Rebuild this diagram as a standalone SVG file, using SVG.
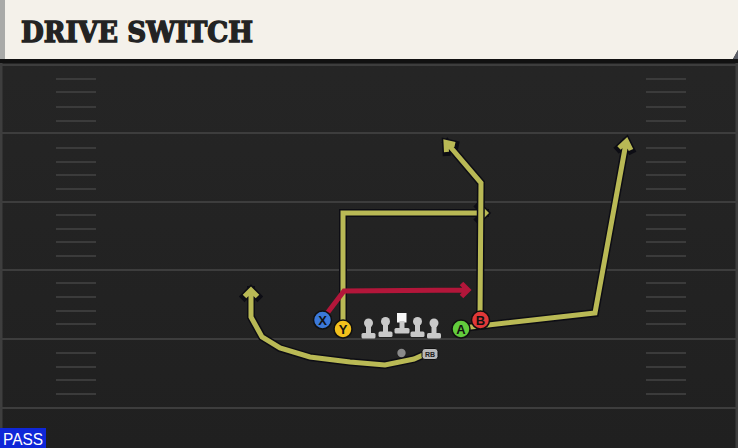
<svg xmlns="http://www.w3.org/2000/svg" xmlns:xlink="http://www.w3.org/1999/xlink" width="738" height="448" viewBox="0 0 738 448">
<style>
.yl{stroke:#3d3d3d;stroke-width:2}
.hm{stroke:#3b3b3b;stroke-width:2}
.ol{fill:none;stroke:#0d0d14;stroke-width:8;stroke-linejoin:miter;stroke-linecap:square}
.ry{fill:none;stroke:#b9b955;stroke-width:5;stroke-linejoin:miter;stroke-linecap:butt}
.rr{fill:none;stroke:#b3163a;stroke-width:5;stroke-linejoin:miter;stroke-linecap:butt}
.pl{stroke:#101010;stroke-width:1.5}
.pt{font-family:"Liberation Sans",Arial,sans-serif;font-weight:bold;font-size:13px;fill:#111;text-anchor:middle}
.ln{fill:#c9c9c9}
</style>
<defs>
<g id="lineman">
<circle cx="0" cy="0" r="4.5" class="ln"/>
<rect x="-2.5" y="0" width="5" height="12" class="ln"/>
<rect x="-7" y="10" width="14" height="5.5" rx="1.5" class="ln"/>
</g>
<linearGradient id="fieldg" x1="0" y1="0" x2="0" y2="1">
<stop offset="0" stop-color="#262626"/>
<stop offset="1" stop-color="#202020"/>
</linearGradient>
</defs>
<rect x="0" y="0" width="738" height="448" fill="url(#fieldg)"/>
<rect x="0" y="62" width="2.5" height="386" fill="#3e3e3e"/>
<rect x="735.5" y="62" width="2.5" height="386" fill="#3e3e3e"/>
<g id="field">
<line class="yl" x1="0" y1="65" x2="738" y2="65"/>
<line class="yl" x1="0" y1="133" x2="738" y2="133"/>
<line class="yl" x1="0" y1="202" x2="738" y2="202"/>
<line class="yl" x1="0" y1="270" x2="738" y2="270"/>
<line class="yl" x1="0" y1="339" x2="738" y2="339"/>
<line class="yl" x1="0" y1="408" x2="738" y2="408"/>
<path class="hm" d="M56 79H96M56 92H96M56 107H96M56 121H96M56 148H96M56 162H96M56 175H96M56 189H96M56 215H96M56 229H96M56 242H96M56 256H96M56 283H96M56 297H96M56 311H96M56 324H96M56 353H96M56 367H96M56 380H96M56 394H96"/>
<path class="hm" d="M646 79H686M646 92H686M646 107H686M646 121H686M646 148H686M646 162H686M646 175H686M646 189H686M646 215H686M646 229H686M646 242H686M646 256H686M646 283H686M646 297H686M646 311H686M646 324H686M646 353H686M646 367H686M646 380H686M646 394H686"/>
</g>
<g id="header">
<rect x="0" y="58" width="738" height="5" fill="#111"/>
<polygon points="0,0 738,0 738,50 733,59 0,59" fill="#f4f1ea"/>
<polygon points="738,50 733,59 738,59" fill="#5a5d66"/>
<rect x="0" y="0" width="5" height="59" fill="#a9aaa8"/>
<text x="21" y="42" font-family="'DejaVu Serif',serif" font-weight="bold" font-size="27" fill="#232323" stroke="#232323" stroke-width="1.4" stroke-linejoin="miter" textLength="232" lengthAdjust="spacingAndGlyphs">DRIVE SWITCH</text>
</g>
<g id="connectors">
<path class="ol" d="M423 355 L414 359 L385 365 L350 362 L310 357 L280 348 L262 337 L251 317 L251 290 M244.5 296.5 L251 290 L257.5 296.5"/>
<path class="ry" d="M423 355 L414 359 L385 365 L350 362 L310 357 L280 348 L262 337 L251 317 L251 290 M244.5 296.5 L251 290 L257.5 296.5"/>
<path class="ol" d="M343 329 L343 213 L485 213 M479 206.5 L485.5 213 L479 219.5"/>
<path class="ry" d="M343 329 L343 213 L485 213 M479 206.5 L485.5 213 L479 219.5"/>
<path class="ol" d="M480 320 L481 183 L447 143 M446.5 152 L446 142.5 L455 144.5"/>
<path class="ry" d="M480 320 L481 183 L447 143 M446.5 152 L446 142.5 L455 144.5"/>
<path class="ol" d="M462 328 L595 313 L626 143 M619 148 L626.5 141 L631 150"/>
<path class="ry" d="M462 328 L595 313 L626 143 M619 148 L626.5 141 L631 150"/>
<path class="rr" d="M322 320 L344 291 L468 290 M461.5 283.5 L468 290 L461.5 296.5"/>
</g>
<g id="node-X"><circle cx="322.5" cy="320" r="9" fill="#3b78d8" class="pl"/><text class="pt" x="322.5" y="324.5">X</text></g>
<g id="node-Y"><circle cx="343" cy="329" r="9" fill="#f2c01c" class="pl"/><text class="pt" x="343" y="334">Y</text></g>
<g id="node-OL1"><use xlink:href="#lineman" x="368.5" y="323"/></g>
<g id="node-OL2"><use xlink:href="#lineman" x="385.5" y="321.5"/></g>
<g id="node-C">
<rect x="397" y="313" width="9.5" height="9.5" fill="#f7f7f7"/>
<rect x="399.5" y="321" width="5" height="10" class="ln"/>
<rect x="394.5" y="328" width="15" height="5.5" rx="1.5" class="ln"/>
</g>
<g id="node-OL4"><use xlink:href="#lineman" x="417.5" y="321.5"/></g>
<g id="node-OL5"><use xlink:href="#lineman" x="434" y="323"/></g>
<g id="node-A"><circle cx="461" cy="329" r="9" fill="#62cc3c" class="pl"/><text class="pt" x="461" y="334">A</text></g>
<g id="node-B"><circle cx="480.5" cy="320" r="9" fill="#e03838" class="pl"/><text class="pt" x="480.5" y="325">B</text></g>
<g id="node-QB"><circle cx="401.5" cy="353" r="4.2" fill="#8a8a8a"/></g>
<g id="node-RB">
<rect x="422" y="348.5" width="16" height="11" rx="3" fill="#b9b9b9" stroke="#111" stroke-width="1"/>
<text x="430" y="357" font-family="'Liberation Sans',Arial,sans-serif" font-weight="bold" font-size="7" fill="#222" text-anchor="middle">RB</text>
</g>
<g id="label-pass">
<rect x="0" y="428" width="46" height="20" fill="#0f27d8"/>
<text x="23" y="444.5" font-family="'Liberation Sans',Arial,sans-serif" font-size="16" fill="#ffffff" text-anchor="middle" textLength="40" lengthAdjust="spacingAndGlyphs">PASS</text>
</g>
</svg>
